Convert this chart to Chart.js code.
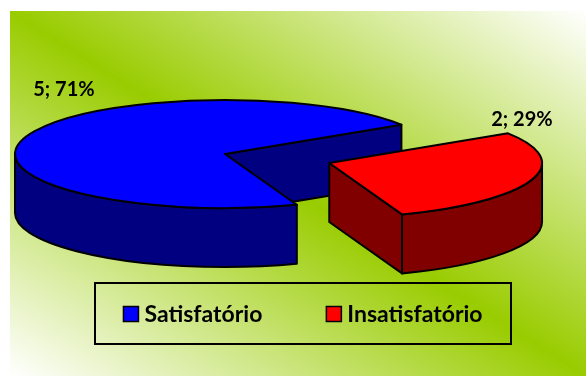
<!DOCTYPE html>
<html>
<head>
<meta charset="utf-8">
<script src="https://cdn.jsdelivr.net/npm/chart.js@4"></script>
<style>
  body { margin: 0; background: #fff; }
  canvas { display: block; }
</style>
</head>
<body>
<canvas id="chart" width="586" height="376"></canvas>
<script>
// data
const CATEGORIES = ['Satisfatório', 'Insatisfatório'];
const VALUES = [5, 2];

// styles
const TOP_COLORS = ['#0000ff', '#ff0000'];
const SIDE_COLORS = ['#000080', '#800000'];
const FONT = 'Lato, "Open Sans", sans-serif';
const TILT = 54 / 210;   // vertical squash of the pie
const DEPTH = 59;        // height of the pie walls in px

// where each slice's top face really sits on screen
function geom(el) {
    const off = (el.options.offset || 0) / 4;
    const half = (el.startAngle + el.endAngle) / 2;
    const fix = 1 - Math.sin(Math.min(Math.PI, el.circumference));
    const r = el.outerRadius + off * fix;
    return {
        cx: el.x + Math.cos(half) * off,
        cy: el.y + Math.sin(half) * off * TILT,
        rx: r,
        ry: r * TILT,
        a0: el.startAngle,
        a1: el.endAngle,
    };
}

function pt(g, a, dy) {
    return [g.cx + g.rx * Math.cos(a), g.cy + g.ry * Math.sin(a) + (dy || 0)];
}

function drawWalls(ctx, g, color) {
    ctx.fillStyle = color;
    // cut faces that look towards the viewer
    const faces = [];
    if (Math.cos(g.a0) < 0) faces.push(g.a0);
    if (Math.cos(g.a1) > 0) faces.push(g.a1);
    faces.forEach((a) => {
        const p = pt(g, a);
        ctx.beginPath();
        ctx.moveTo(g.cx, g.cy);
        ctx.lineTo(p[0], p[1]);
        ctx.lineTo(p[0], p[1] + DEPTH);
        ctx.lineTo(g.cx, g.cy + DEPTH);
        ctx.closePath();
        ctx.fill();
        ctx.stroke();
    });
    // outer wall, only the front half of the rim
    const TAU = Math.PI * 2;
    for (let k = Math.floor(g.a0 / TAU) - 1; k <= Math.ceil(g.a1 / TAU); k++) {
        const s = Math.max(g.a0, k * TAU);
        const e = Math.min(g.a1, k * TAU + Math.PI);
        if (e - s <= 0.001) continue;
        const ps = pt(g, s);
        const pe = pt(g, e, DEPTH);
        ctx.beginPath();
        ctx.moveTo(ps[0], ps[1]);
        ctx.ellipse(g.cx, g.cy, g.rx, g.ry, 0, s, e, false);
        ctx.lineTo(pe[0], pe[1]);
        ctx.ellipse(g.cx, g.cy + DEPTH, g.rx, g.ry, 0, e, s, true);
        ctx.closePath();
        ctx.fill();
        ctx.stroke();
    }
}

const pie3d = {
    id: 'pie3d',
    beforeDraw(chart) {
        const ctx = chart.ctx;
        ctx.save();
        ctx.fillStyle = '#ffffff';
        ctx.fillRect(0, 0, chart.width, chart.height);
        // excel style diagonal gradient, stretched with the box
        ctx.translate(10, 11);
        ctx.scale(chart.width - 10, chart.height - 11);
        const grad = ctx.createLinearGradient(0, 1, 1, 0);
        grad.addColorStop(0, '#ffffff');
        grad.addColorStop(0.5, '#99cc00');
        grad.addColorStop(1, '#ffffff');
        ctx.fillStyle = grad;
        ctx.fillRect(0, 0, 1, 1);
        ctx.restore();
    },
    beforeDatasetsDraw(chart) {
        const ctx = chart.ctx;
        const arcs = chart.getDatasetMeta(0).data;
        ctx.save();
        ctx.strokeStyle = '#000';
        ctx.lineWidth = 2;
        ctx.lineJoin = 'round';
        arcs.forEach((el, i) => drawWalls(ctx, geom(el), SIDE_COLORS[i]));
        ctx.restore();
        // squash the pie so the library draws the top faces flat
        const cy = arcs[0].y;
        ctx.save();
        ctx.translate(0, cy);
        ctx.scale(1, TILT);
        ctx.translate(0, -cy);
    },
    afterDatasetsDraw(chart) {
        const ctx = chart.ctx;
        ctx.restore();
        const arcs = chart.getDatasetMeta(0).data;
        const values = chart.data.datasets[0].data;
        const total = values.reduce((a, b) => a + b, 0);
        ctx.save();
        ctx.strokeStyle = '#000';
        ctx.lineWidth = 2;
        ctx.lineJoin = 'round';
        arcs.forEach((el) => {
            const g = geom(el);
            ctx.beginPath();
            ctx.moveTo(g.cx, g.cy);
            ctx.ellipse(g.cx, g.cy, g.rx, g.ry, 0, g.a0, g.a1, false);
            ctx.closePath();
            ctx.stroke();
        });
        // data labels "value; percent"
        const nudge = [[38, -41], [-9, -54]];
        ctx.fillStyle = '#000';
        ctx.font = 'bold 20px ' + FONT;
        ctx.textAlign = 'center';
        ctx.textBaseline = 'alphabetic';
        arcs.forEach((el, i) => {
            const g = geom(el);
            const mid = (g.a0 + g.a1) / 2;
            const p = pt(g, mid);
            const txt = values[i] + '; ' + Math.round((values[i] / total) * 100) + '%';
            ctx.fillText(txt, p[0] + nudge[i][0], p[1] + nudge[i][1]);
        });
        ctx.restore();
    },
    afterDraw(chart) {
        const ctx = chart.ctx;
        const box = { x: 95, y: 283, w: 416, h: 61 };
        ctx.save();
        ctx.strokeStyle = '#000';
        ctx.lineWidth = 2;
        ctx.strokeRect(box.x, box.y, box.w, box.h);
        ctx.font = 'bold 23px ' + FONT;
        const sq = 15, gap = 6, between = 64;
        const widths = chart.data.labels.map((t) => sq + gap + ctx.measureText(t).width);
        const total = widths.reduce((a, b) => a + b, 0) + between * (widths.length - 1);
        let x = box.x + (box.w - total) / 2;
        const mid = box.y + box.h / 2;
        chart.data.labels.forEach((t, i) => {
            ctx.fillStyle = TOP_COLORS[i];
            ctx.lineWidth = 1.5;
            ctx.fillRect(x, mid - 7, sq, sq);
            ctx.strokeRect(x, mid - 7, sq, sq);
            ctx.fillStyle = '#000';
            ctx.textBaseline = 'alphabetic';
            ctx.fillText(t, x + sq + gap, mid + 8);
            x += widths[i] + between;
        });
        ctx.restore();
    },
};

new Chart(document.getElementById('chart'), {
    type: 'pie',
    data: {
        labels: CATEGORIES,
        datasets: [
            {
                data: VALUES,
                backgroundColor: TOP_COLORS,
                borderWidth: 0,
                offset: [0, 440],
                clip: false,
            },
        ],
    },
    options: {
        responsive: false,
        animation: false,
        events: [],
        rotation: 160,
        radius: 210,
        cutout: '0%',
        layout: { padding: { left: 0, right: 136, top: 0, bottom: 68 } },
        plugins: {
            legend: { display: false },
            tooltip: { enabled: false },
        },
    },
    plugins: [pie3d],
});
</script>
</body>
</html>
